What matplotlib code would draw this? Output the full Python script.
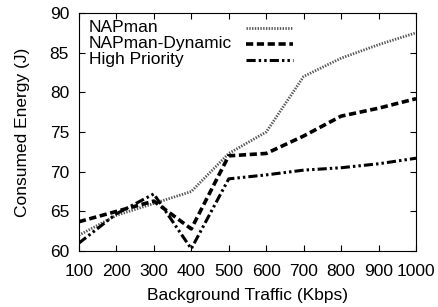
import matplotlib
matplotlib.use("Agg")
import matplotlib.pyplot as plt

plt.rcParams['font.family'] = ['Liberation Sans', 'DejaVu Sans']

# background traffic (Kbps)
traffic = [100, 200, 300, 400, 500, 600, 700, 800, 900, 1000]

# consumed energy (J)
napman = [62.0, 64.5, 66.0, 67.5, 72.3, 75.0, 82.0, 84.3, 86.0, 87.5]
napman_dynamic = [63.7, 65.0, 66.3, 62.8, 72.0, 72.3, 74.5, 77.0, 78.0, 79.2]
high_priority = [61.0, 64.7, 67.2, 60.3, 69.1, 69.6, 70.2, 70.5, 71.0, 71.7]

series_names = ['NAPman', 'NAPman-Dynamic', 'High Priority']
styles = [
    dict(color='#555555', lw=2.0, linestyle=(0, (0.5, 0.5))),
    dict(color='black', lw=2.6, linestyle=(0, (2.0, 1.0))),
    dict(color='black', lw=2.2, linestyle=(0, (3.0, 1.0, 0.8, 1.0, 0.8, 1.0))),
]

fig, ax = plt.subplots(figsize=(4.38, 3.07), dpi=100)
fig.subplots_adjust(left=0.180, right=0.950, top=0.958, bottom=0.182)

for name, values, st in zip(series_names, [napman, napman_dynamic, high_priority], styles):
    ax.plot(traffic, values, label=name, **st)

# gnuplot-style key: label on the left, sample on the right
for i, (name, st) in enumerate(zip(series_names, styles)):
    yk = 0.937 - i * 0.067
    ax.text(0.03, yk, name, transform=ax.transAxes, fontsize=12.5, va='center', ha='left')
    ax.plot([0.496, 0.635], [yk, yk], transform=ax.transAxes, **st)

ax.set_xlim(100, 1000)
ax.set_ylim(60, 90)
ax.set_xticks(traffic)
ax.set_yticks([60, 65, 70, 75, 80, 85, 90])
ax.tick_params(direction='in', top=True, right=True, labelsize=12.5, length=4.5)
ax.tick_params(axis='x', pad=9)
ax.tick_params(axis='y', pad=7)
ax.set_xlabel('Background Traffic (Kbps)', fontsize=12.5, labelpad=7)
ax.set_ylabel('Consumed Energy (J)', fontsize=12.5, labelpad=14)

fig.savefig('out.png', dpi=100)
